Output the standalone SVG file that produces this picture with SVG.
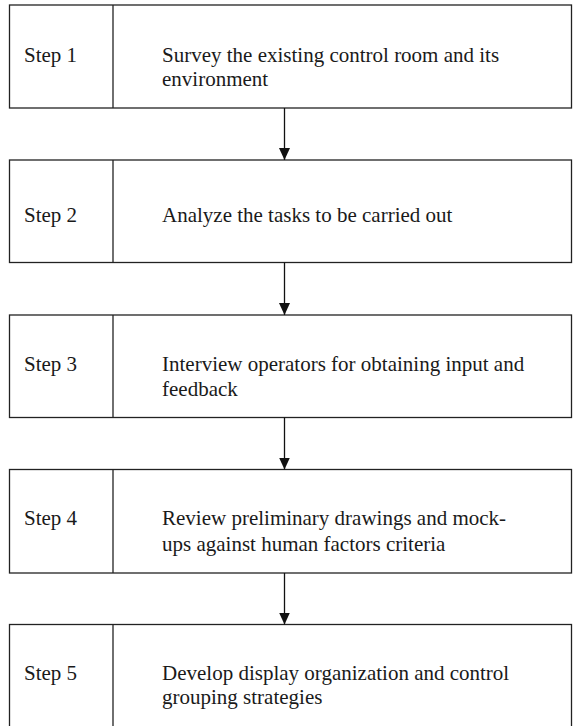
<svg xmlns="http://www.w3.org/2000/svg" width="573" height="726" viewBox="0 0 573 726">
  <defs>
    <style>
      .box { fill: #ffffff; stroke: #222222; stroke-width: 1.3; }
      .div { stroke: #222222; stroke-width: 1.3; }
      .txt { font-family: "Liberation Serif", "DejaVu Serif", serif; font-size: 21px; fill: #1a1a1a; }
      .conn { stroke: #111111; stroke-width: 1.3; fill: none; }
    </style>
    <marker id="arrow" viewBox="0 0 12 11" refX="12" refY="5.5" markerWidth="12" markerHeight="11" markerUnits="userSpaceOnUse" orient="auto">
      <path d="M0,0 L12,5.5 L0,11 Z" fill="#111111"/>
    </marker>
  </defs>
  <rect width="573" height="726" fill="#ffffff"/>

  <!-- step boxes -->
  <g id="step1">
    <rect class="box" x="9.5" y="5" width="562" height="103"/>
    <line class="div" x1="113" y1="5" x2="113" y2="108"/>
    <text class="txt" x="24" y="62">Step 1</text>
    <text class="txt" x="162" y="62">Survey the existing control room and its</text>
    <text class="txt" x="162" y="86">environment</text>
  </g>
  <g id="step2">
    <rect class="box" x="9.5" y="160" width="562" height="102.5"/>
    <line class="div" x1="113" y1="160" x2="113" y2="262.5"/>
    <text class="txt" x="24" y="221.5">Step 2</text>
    <text class="txt" x="162" y="221.5">Analyze the tasks to be carried out</text>
  </g>
  <g id="step3">
    <rect class="box" x="9.5" y="315" width="562" height="102.5"/>
    <line class="div" x1="113" y1="315" x2="113" y2="417.5"/>
    <text class="txt" x="24" y="371">Step 3</text>
    <text class="txt" x="162" y="371">Interview operators for obtaining input and</text>
    <text class="txt" x="162" y="396">feedback</text>
  </g>
  <g id="step4">
    <rect class="box" x="9.5" y="469.5" width="562" height="103.5"/>
    <line class="div" x1="113" y1="469.5" x2="113" y2="573"/>
    <text class="txt" x="24" y="524.5">Step 4</text>
    <text class="txt" x="162" y="524.5">Review preliminary drawings and mock-</text>
    <text class="txt" x="162" y="550.5">ups against human factors criteria</text>
  </g>
  <g id="step5">
    <rect class="box" x="9.5" y="624.5" width="562" height="110"/>
    <line class="div" x1="113" y1="624.5" x2="113" y2="734.5"/>
    <text class="txt" x="24" y="680">Step 5</text>
    <text class="txt" x="162" y="680">Develop display organization and control</text>
    <text class="txt" x="162" y="704">grouping strategies</text>
  </g>

  <!-- connectors -->
  <g id="connectors">
    <line class="conn" x1="284.5" y1="108" x2="284.5" y2="160" marker-end="url(#arrow)"/>
    <line class="conn" x1="284.5" y1="262.5" x2="284.5" y2="315" marker-end="url(#arrow)"/>
    <line class="conn" x1="284.5" y1="417.5" x2="284.5" y2="469.5" marker-end="url(#arrow)"/>
    <line class="conn" x1="284.5" y1="573" x2="284.5" y2="624.5" marker-end="url(#arrow)"/>
  </g>
</svg>
